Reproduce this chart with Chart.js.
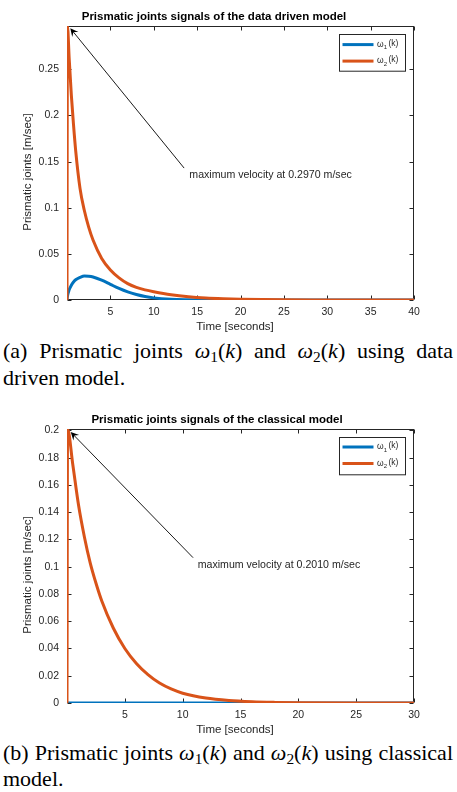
<!DOCTYPE html>
<html><head><meta charset="utf-8">
<script src="https://cdn.jsdelivr.net/npm/chart.js@4.4.0/dist/chart.umd.min.js"></script>
<style>
html,body{margin:0;padding:0;background:#fff;width:457px;height:792px;overflow:hidden;position:relative}
canvas{position:absolute;left:0}
#c1{top:0}
#c2{top:395px}
.cap{position:absolute;left:3px;width:450px;font-family:"Liberation Serif","Times New Roman",serif;font-size:22px;color:#000}
.l1{text-align:justify;text-align-last:justify;white-space:nowrap}
#cap1{top:338px;line-height:25px}
#cap2{top:741px;line-height:23.5px}
.m{font-style:italic}
.sb{font-size:70%;position:relative;top:0.25em}
</style></head>
<body>
<canvas id="c1" width="457" height="335"></canvas>
<canvas id="c2" width="457" height="345"></canvas>
<div class="cap" id="cap1"><div class="l1">(a) Prismatic joints <span class="m">ω</span><span class="sb">1</span>(<span class="m">k</span>) and <span class="m">ω</span><span class="sb">2</span>(<span class="m">k</span>) using data</div><div>driven model.</div></div>
<div class="cap" id="cap2"><div class="l1">(b) Prismatic joints <span class="m">ω</span><span class="sb">1</span>(<span class="m">k</span>) and <span class="m">ω</span><span class="sb">2</span>(<span class="m">k</span>) using classical</div><div>model.</div></div>
<script>
// ---------- data ----------
const seriesNames = ['ω_1(k)', 'ω_2(k)'];

// (a) data driven model
const timeA   = [0, 0.05, 0.25, 0.5, 0.75, 1, 1.5, 2, 2.5, 3, 4, 5, 6, 7, 8, 9, 10, 12, 14, 16, 18, 20, 25, 30, 40];
const omega1A = [0, 0.004, 0.011, 0.016, 0.0195, 0.022, 0.0245, 0.026, 0.0258, 0.025, 0.0215, 0.017, 0.0125, 0.0088, 0.006, 0.0038, 0.0023, 0.0008, 0.0003, 0.0001, 0, 0, 0, 0, 0];
const omega2A = [0, 0.297, 0.262, 0.222, 0.19, 0.162, 0.121, 0.097, 0.079, 0.065, 0.045, 0.0325, 0.024, 0.0177, 0.0136, 0.011, 0.009, 0.0057, 0.0035, 0.0021, 0.0013, 0.0008, 0.0002, 0.0001, 0];
const xTicksA = [0, 5, 10, 15, 20, 25, 30, 35, 40];
const xTickLabelsA = ['', '5', '10', '15', '20', '25', '30', '35', '40'];
const yTicksA = [0, 0.05, 0.1, 0.15, 0.2, 0.25];
const yTickLabelsA = ['0', '0.05', '0.1', '0.15', '0.2', '0.25'];

// (b) classical model
const timeB   = [0, 0.05, 0.5, 1, 1.5, 2, 2.5, 3, 4, 5, 6, 7, 8, 9, 10, 12, 14, 16, 18, 20, 25, 30];
const omega1B = [0, 0, 0, 0, 0, 0, 0, 0, 0, 0, 0, 0, 0, 0, 0, 0, 0, 0, 0, 0, 0, 0];
const omega2B = [0, 0.201, 0.175, 0.145, 0.122, 0.103, 0.088, 0.075, 0.055, 0.040, 0.029, 0.0208, 0.0146, 0.0103, 0.0072, 0.0036, 0.0018, 0.0009, 0.00045, 0.0002, 0, 0];
const xTicksB = [0, 5, 10, 15, 20, 25, 30];
const xTickLabelsB = ['', '5', '10', '15', '20', '25', '30'];
const yTicksB = [0, 0.02, 0.04, 0.06, 0.08, 0.1, 0.12, 0.14, 0.16, 0.18, 0.2];
const yTickLabelsB = ['0', '0.02', '0.04', '0.06', '0.08', '0.1', '0.12', '0.14', '0.16', '0.18', '0.2'];

// ---------- styling ----------
const FONT = '"Liberation Sans", Arial, Helvetica, sans-serif';
const AX = '#262626';
const COLORS = ['#0072BD', '#D95319'];
Chart.defaults.font.family = FONT;
Chart.defaults.font.size = 10.5;
Chart.defaults.color = AX;

const decor = {
  id: 'decor',
  beforeDatasetsDraw(chart) {
    const {ctx, chartArea: a, scales} = chart;
    ctx.save();
    ctx.strokeStyle = AX; ctx.lineWidth = 1;
    const L = Math.round(a.left) + 0.5, R = Math.round(a.right) - 0.5, T = Math.round(a.top) + 0.5, B = Math.round(a.bottom) - 0.5;
    ctx.strokeRect(L, T, R - L, B - T);
    ctx.beginPath();
    scales.x.ticks.forEach(t => {
      const px = Math.round(scales.x.getPixelForValue(t.value)) + 0.5;
      ctx.moveTo(px, B); ctx.lineTo(px, B - 4);
      ctx.moveTo(px, T); ctx.lineTo(px, T + 4);
    });
    scales.y.ticks.forEach(t => {
      const py = Math.round(scales.y.getPixelForValue(t.value)) + 0.5;
      ctx.moveTo(L, py); ctx.lineTo(L + 4, py);
      ctx.moveTo(R, py); ctx.lineTo(R - 4, py);
    });
    ctx.stroke();
    ctx.restore();
  },
  afterDraw(chart, args, o) {
    const {ctx, chartArea: a, scales} = chart;
    ctx.save();
    // title
    ctx.fillStyle = '#000';
    ctx.font = 'bold 11.5px ' + FONT;
    ctx.textAlign = 'center'; ctx.textBaseline = 'middle';
    ctx.fillText(o.title, a.left + o.titleDx, a.top - 9);
    // axis labels
    ctx.fillStyle = AX;
    ctx.font = '11.5px ' + FONT;
    ctx.fillText(o.xLabel, (a.left + a.right) / 2 - 5.5, a.bottom + 27);
    ctx.save();
    ctx.translate(28, (a.top + a.bottom) / 2 + 9);
    ctx.rotate(-Math.PI / 2);
    ctx.fillText(o.yLabel, 0, 0);
    ctx.restore();
    // annotation arrow
    const an = o.annotation;
    const tx = scales.x.getPixelForValue(an.tip[0]), ty = scales.y.getPixelForValue(an.tip[1]);
    const sx = scales.x.getPixelForValue(an.tail[0]), sy = scales.y.getPixelForValue(an.tail[1]);
    const dx = tx - sx, dy = ty - sy, len = Math.hypot(dx, dy), ux = dx / len, uy = dy / len;
    ctx.strokeStyle = '#000'; ctx.fillStyle = '#000'; ctx.lineWidth = 0.9;
    ctx.beginPath(); ctx.moveTo(sx, sy); ctx.lineTo(tx - ux * 4, ty - uy * 4); ctx.stroke();
    const hl = 8, hw = 4;
    ctx.beginPath();
    ctx.moveTo(tx, ty);
    ctx.lineTo(tx - ux * hl - uy * hw, ty - uy * hl + ux * hw);
    ctx.lineTo(tx - ux * 5, ty - uy * 5);
    ctx.lineTo(tx - ux * hl + uy * hw, ty - uy * hl - ux * hw);
    ctx.closePath(); ctx.fill();
    ctx.fillStyle = AX;
    ctx.textAlign = 'left';
    ctx.font = '10.6px ' + FONT;
    ctx.fillText(an.text, scales.x.getPixelForValue(an.textAt[0]), scales.y.getPixelForValue(an.textAt[1]));
    // legend
    const lw = 66, lh = o.legendH;
    const bx = a.right - 9 - lw, by = a.top + o.legendDy;
    ctx.fillStyle = '#fff';
    ctx.fillRect(bx, by, lw, lh);
    ctx.strokeStyle = AX; ctx.lineWidth = 1;
    ctx.strokeRect(Math.round(bx) + 0.5, Math.round(by) + 0.5, lw, lh);
    chart.data.datasets.forEach((ds, i) => {
      const y = by + 10.3 + i * 16.5;
      ctx.strokeStyle = ds.borderColor; ctx.lineWidth = 3;
      ctx.beginPath(); ctx.moveTo(bx + 3.5, y); ctx.lineTo(bx + 34.5, y); ctx.stroke();
      const m = ds.label.match(/^(.*)_(\d)(.*)$/);
      let x = bx + 38;
      ctx.fillStyle = AX; ctx.textAlign = 'left'; ctx.textBaseline = 'middle';
      ctx.font = '8.5px ' + FONT; ctx.fillText(m[1], x, y); x += ctx.measureText(m[1]).width;
      ctx.font = '6px ' + FONT; ctx.fillText(m[2], x, y + 3); x += ctx.measureText(m[2]).width + 1.5;
      ctx.font = '8.5px ' + FONT; ctx.fillText(m[3], x, y - 1);
    });
    ctx.restore();
  }
};

function makeChart(id, time, s1, s2, xMax, yMax, xTicks, xLabels, yTicks, yLabels, padTop, xAxisH, decorOpts) {
  const pts = s => time.map((t, i) => ({x: t, y: s[i]}));
  return new Chart(document.getElementById(id), {
    type: 'line',
    data: {
      datasets: [
        {label: seriesNames[0], data: pts(s1), borderColor: COLORS[0], backgroundColor: COLORS[0], borderWidth: 3, pointRadius: 0, cubicInterpolationMode: 'monotone', order: 1},
        {label: seriesNames[1], data: pts(s2), borderColor: COLORS[1], backgroundColor: COLORS[1], borderWidth: 3, pointRadius: 0, cubicInterpolationMode: 'monotone', order: 0}
      ]
    },
    options: {
      responsive: false, animation: false, devicePixelRatio: 1,
      layout: {padding: {left: 0, right: 43, top: padTop, bottom: 0}},
      plugins: {legend: {display: false}, tooltip: {enabled: false}, title: {display: false}, decor: decorOpts},
      scales: {
        x: {
          type: 'linear', min: 0, max: xMax,
          grid: {display: false, drawTicks: false}, border: {display: false},
          afterBuildTicks: s => { s.ticks = xTicks.map(v => ({value: v})); },
          afterFit: s => { s.height = xAxisH; },
          ticks: {padding: 6, maxRotation: 0, autoSkip: false, callback: (v, i) => xLabels[i], color: AX, font: {size: 10.5}}
        },
        y: {
          type: 'linear', min: 0, max: yMax,
          grid: {display: false, drawTicks: false}, border: {display: false},
          afterBuildTicks: s => { s.ticks = yTicks.map(v => ({value: v})); },
          afterFit: s => { s.width = 67; },
          ticks: {padding: 8, autoSkip: false, callback: (v, i) => yLabels[i], color: AX, font: {size: 10.5}}
        }
      }
    },
    plugins: [decor]
  });
}

makeChart('c1', timeA, omega1A, omega2A, 40, 0.297, xTicksA, xTickLabelsA, yTicksA, yTickLabelsA, 26, 35, {
  title: 'Prismatic joints signals of the data driven model', titleDx: 147,
  xLabel: 'Time [seconds]', yLabel: 'Prismatic joints [m/sec]',
  annotation: {tip: [0.38, 0.2946], tail: [13.5, 0.143], textAt: [14.1, 0.135], text: 'maximum velocity at 0.2970 m/sec'},
  legendDy: 8.3, legendH: 36.7
});
makeChart('c2', timeB, omega1B, omega2B, 30, 0.201, xTicksB, xTickLabelsB, yTicksB, yTickLabelsB, 34, 37, {
  title: 'Prismatic joints signals of the classical model', titleDx: 150,
  xLabel: 'Time [seconds]', yLabel: 'Prismatic joints [m/sec]',
  annotation: {tip: [0.32, 0.1988], tail: [10.9, 0.1066], textAt: [11.3, 0.101], text: 'maximum velocity at 0.2010 m/sec'},
  legendDy: 7.7, legendH: 37.3
});
</script>
</body></html>
